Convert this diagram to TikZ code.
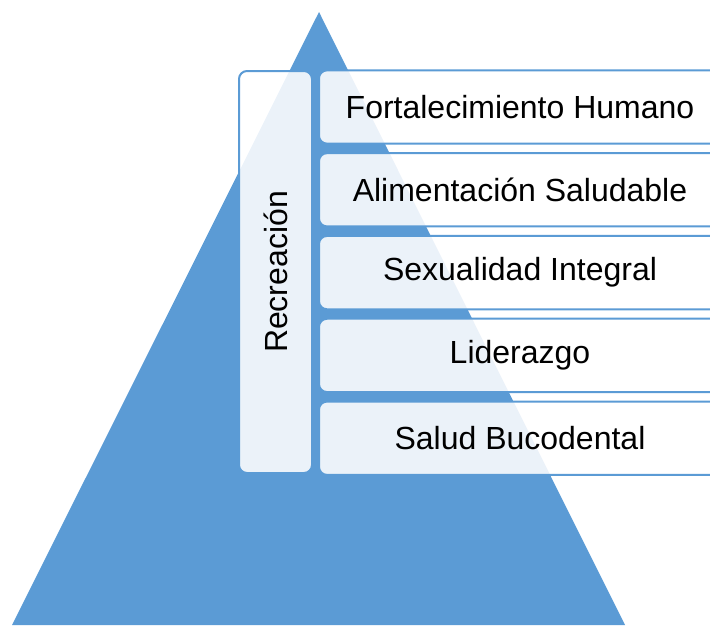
\documentclass[tikz,border=0pt]{standalone}
\usepackage{fontspec}
\setmainfont{Liberation Sans}
\definecolor{pyrblue}{HTML}{5B9BD5}

\begin{document}
\begin{tikzpicture}[x=0.75pt,y=-0.75pt,node distance=62.1pt,
  row node/.style={rectangle,rounded corners=6pt,draw=pyrblue,line width=1.5pt,
    fill=white,fill opacity=0.88,text opacity=1,minimum width=301.5pt,
    minimum height=55pt,font=\fontsize{24}{28}\selectfont},
  side node/.style={row node,rotate=90,minimum width=301.5pt,minimum height=54.75pt}]

 \useasboundingbox (0,0) rectangle (710,625);
 \clip (0,0) rectangle (710,625);

 % pyramid
 \fill[pyrblue] (319,12) -- (12,625) -- (625,625) -- cycle;

 \node[side node] (recr) at (275.5,272) {Recreación};

 \node[row node] (fort) at (520,107) {Fortalecimiento Humano};
 \node[row node] (alim) [below of=fort] {Alimentación Saludable};
 \node[row node] (sexu) [below of=alim] {Sexualidad Integral};
 \node[row node] (lide) [below of=sexu] {Liderazgo};
 \node[row node] (salu) [below of=lide] {Salud Bucodental};

\end{tikzpicture}
\end{document}
